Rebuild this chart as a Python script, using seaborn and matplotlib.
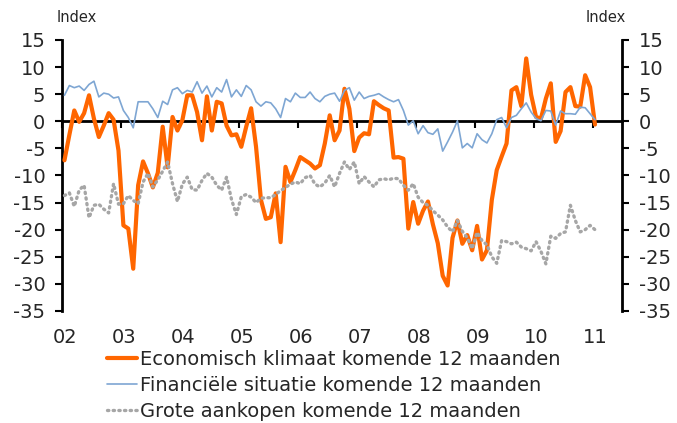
import numpy as np
import pandas as pd
import matplotlib
matplotlib.use("Agg")
import matplotlib.pyplot as plt
import matplotlib.transforms as mtransforms
import seaborn as sns

# Monthly data, Jan 2002 .. Jan 2011
START_YEAR = 2002

ECONOMISCH = [
    -7.2, -2.5, 2.0, -0.1, 1.5, 4.8, 0.5, -2.9, -0.8, 1.5, 0.3, -5.4,
    -19.2, -19.8, -27.2, -11.8, -7.4, -9.6, -12.2, -9.5, -1.0, -8.5, 0.8, -1.7,
    0.2, 4.8, 4.8, 1.7, -3.5, 4.6, -1.7, 3.6, 3.3, -0.8, -2.6, -2.4,
    -4.7, -1.0, 2.4, -4.7, -14.5, -18.0, -17.7, -13.3, -22.3, -8.4, -11.2, -9.0,
    -6.6, -7.2, -7.8, -8.7, -8.1, -4.1, 1.1, -3.5, -1.7, 6.0, 2.3, -5.5,
    -3.0, -2.2, -2.4, 3.7, 3.0, 2.4, 2.0, -6.7, -6.6, -6.9, -19.8, -14.9,
    -18.9, -16.5, -14.8, -19.0, -22.5, -28.5, -30.3, -21.5, -18.3, -22.6, -21.0, -23.8,
    -19.3, -25.5, -23.8, -14.5, -9.0, -6.5, -4.1, 5.7, 6.3, 2.8, 11.6, 4.9,
    0.8, 0.5, 4.2, 7.0, -3.8, -1.8, 5.4, 6.3, 2.8, 2.7, 8.5, 6.3,
    -0.6,
]

FINANCIEEL = [
    4.8, 6.6, 6.2, 6.5, 5.7, 6.8, 7.4, 4.5, 5.2, 5.0, 4.3, 4.5,
    2.0, 0.7, -1.2, 3.6, 3.6, 3.6, 2.3, 0.7, 3.7, 3.1, 5.8, 6.2,
    5.1, 5.7, 5.4, 7.3, 5.2, 6.5, 4.5, 6.2, 5.4, 7.7, 4.5, 5.8,
    4.6, 6.6, 5.8, 3.6, 2.8, 3.6, 3.4, 2.3, 0.7, 4.2, 3.6, 5.2,
    4.4, 4.4, 5.4, 4.2, 3.6, 4.6, 5.0, 5.2, 3.7, 5.7, 6.2, 3.9,
    5.4, 4.2, 4.6, 4.8, 5.1, 4.5, 4.0, 3.6, 4.0, 2.0, -0.7, 0.1,
    -2.3, -0.8, -2.1, -2.4, -1.4, -5.5, -3.8, -2.0, 0.1, -4.9, -4.1, -4.9,
    -2.3, -3.4, -4.0, -2.3, 0.3, 0.7, -1.2, 0.7, 1.1, 2.3, 3.4, 1.7,
    0.5, 0.1, 2.0, 1.9, -0.7, 1.9, 1.4, 1.4, 1.3, 2.6, 2.5, 1.4,
    0.3,
]

AANKOPEN = [
    -13.7, -13.2, -15.7, -12.7, -11.8, -17.8, -15.5, -15.3, -16.2, -16.9, -11.5, -15.3,
    -15.2, -13.7, -14.6, -15.2, -11.2, -9.6, -12.1, -10.8, -9.2, -7.5, -11.5, -14.8,
    -11.6, -10.3, -12.6, -12.7, -10.9, -9.6, -10.3, -11.8, -12.7, -10.3, -14.4, -17.2,
    -13.9, -13.5, -14.0, -15.0, -14.2, -14.1, -14.1, -13.5, -12.8, -12.2, -11.6, -11.2,
    -11.5, -10.4, -10.0, -11.6, -12.1, -11.4, -10.0, -12.1, -9.6, -7.5, -8.9, -7.5,
    -11.5, -10.2, -11.2, -12.1, -10.8, -10.6, -10.8, -10.5, -10.6, -11.8, -12.7, -11.5,
    -14.0, -15.0, -15.5, -16.5, -17.3, -18.2, -19.5, -20.4, -18.3, -20.3, -21.5, -23.5,
    -20.5, -22.0, -22.8, -25.0, -26.2, -22.0, -22.2, -22.6, -22.3, -23.2, -23.5, -23.9,
    -22.2, -24.0, -26.3, -21.2, -21.6, -20.7, -20.4, -15.5, -18.3, -20.4, -20.0, -19.2,
    -20.0,
]

SERIES_LABELS = [
    "Economisch klimaat komende 12 maanden",
    "Financiële situatie komende 12 maanden",
    "Grote aankopen komende 12 maanden",
]
YEARS = list(range(2002, 2012))
YEAR_LABELS = ["02", "03", "04", "05", "06", "07", "08", "09", "10", "11"]
Y_TICKS = list(range(-35, 20, 5))

months = np.arange(len(ECONOMISCH))
df = pd.DataFrame({
    "t": START_YEAR + (months + 0.5) / 12,
    "eco": ECONOMISCH,
    "fin": FINANCIEEL,
    "aank": AANKOPEN,
})

sns.set_theme(style="white")
plt.rcParams["font.family"] = ["DejaVu Sans"]
plt.rcParams["axes.unicode_minus"] = False

fig = plt.figure(figsize=(6.77, 4.23), dpi=100)
ax = fig.add_axes([62 / 677, 1 - 311 / 423, 560 / 677, 271 / 423])

sns.lineplot(data=df, x="t", y="eco", ax=ax, color="#FF6600", linewidth=3.0,
             label=SERIES_LABELS[0], zorder=3)
sns.lineplot(data=df, x="t", y="fin", ax=ax, color="#7EA6D3", linewidth=1.2,
             label=SERIES_LABELS[1], zorder=4)
sns.lineplot(data=df, x="t", y="aank", ax=ax, color="#A6A6A6", linewidth=2.4,
             linestyle=(0, (0.4, 1.3)), dash_capstyle="round",
             label=SERIES_LABELS[2], zorder=5)

ax.set_xlim(2002, 2011.5)
ax.set_ylim(-35, 15)
ax.set_xlabel("")
ax.set_ylabel("")

# y axes on both sides
ax.set_yticks(Y_TICKS)
ax.tick_params(axis="y", left=True, right=True, labelleft=True, labelright=True,
               direction="out", length=5, width=1.5, color="black",
               labelsize=14, pad=7)
for side in ["left", "right"]:
    ax.spines[side].set_visible(True)
    ax.spines[side].set_color("black")
    ax.spines[side].set_linewidth(2)
ax.spines["top"].set_visible(False)

# category axis crosses at zero, labels stay at the bottom
ax.spines["bottom"].set_position(("data", 0))
ax.spines["bottom"].set_color("black")
ax.spines["bottom"].set_linewidth(2)
ax.set_xticks(YEARS)
ax.tick_params(axis="x", bottom=True, labelbottom=False, direction="out",
               length=5, width=1.5, color="black")

sec = ax.secondary_xaxis("bottom")
sec.set_xticks(YEARS, YEAR_LABELS)
sec.tick_params(axis="x", length=0, labelsize=14, pad=12)
sec.spines["bottom"].set_visible(False)
shift = mtransforms.ScaledTranslation(3 / 100, 0, fig.dpi_scale_trans)
for lbl in sec.get_xticklabels():
    lbl.set_transform(lbl.get_transform() + shift)

fig.text(57 / 677, 1 - 17 / 423, "Index", fontsize=10.5, ha="left", va="center")
fig.text(626 / 677, 1 - 17 / 423, "Index", fontsize=10.5, ha="right", va="center")

ax.legend(loc="upper left", bbox_to_anchor=(107 / 677, 1 - 350 / 423),
          bbox_transform=fig.transFigure, frameon=False, fontsize=14,
          handlelength=1.55, handletextpad=0.15, labelspacing=0.35,
          borderpad=0, borderaxespad=0)

fig.savefig("out.png", dpi=100)
